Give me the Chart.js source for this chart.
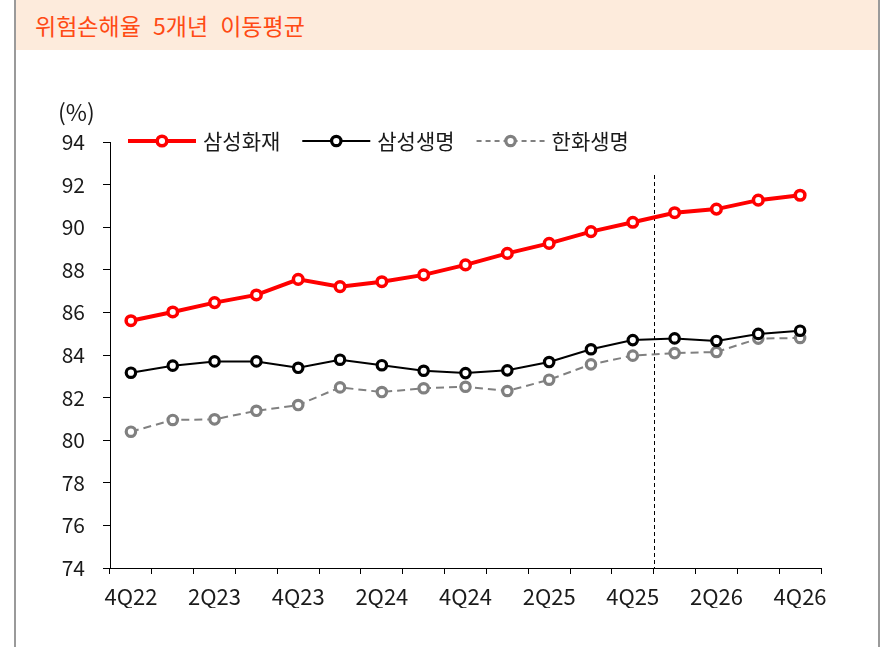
<!DOCTYPE html>
<html><head><meta charset="utf-8">
<script src="https://cdn.jsdelivr.net/npm/chart.js@4/dist/chart.umd.min.js"></script>
<style>
html,body{margin:0;padding:0;background:#fff;}
#wrap{position:relative;width:880px;height:647px;overflow:hidden;}
#frame{position:absolute;left:14px;top:0;width:866px;height:647px;border-left:2px solid #9a9a9a;border-right:2px solid #9a9a9a;box-sizing:border-box;}
#title{position:absolute;left:16px;top:0;width:862px;height:50px;background:#fdebdc;}
#title span{position:absolute;left:19px;top:13px;font-size:23px;line-height:24px;font-family:"Noto Sans CJK KR";color:#ff4a14;white-space:nowrap;word-spacing:7px;}
canvas{position:absolute;left:0;top:0;}
</style></head>
<body>
<div id="wrap">
  <div id="frame"></div>
  <div id="title"><span>위험손해율 5개년 이동평균</span></div>
  <canvas id="c" width="880" height="647"></canvas>
</div>
<script>
const categories = ['4Q22','1Q23','2Q23','3Q23','4Q23','1Q24','2Q24','3Q24','4Q24','1Q25','2Q25','3Q25','4Q25','1Q26','2Q26','3Q26','4Q26'];
const samsungFire = [85.61,86.02,86.46,86.82,87.55,87.21,87.44,87.76,88.23,88.77,89.24,89.79,90.23,90.68,90.85,91.27,91.50];
const samsungLife = [83.17,83.50,83.70,83.70,83.40,83.78,83.52,83.26,83.15,83.28,83.67,84.27,84.70,84.78,84.66,84.99,85.14];
const hanwhaLife  = [80.40,80.95,80.98,81.38,81.65,82.48,82.26,82.44,82.51,82.31,82.84,83.56,83.97,84.09,84.14,84.77,84.80];
const seriesNames = ['삼성화재','삼성생명','한화생명'];
const yMin = 74, yMax = 94, yStep = 2;
const yUnit = '(%)';
const forecastStart = '1Q26';
const dividerTop = 92.45;

const FONT = '"Noto Sans CJK KR", "Noto Sans", sans-serif';
const TXT = '#1a1a1a';

const decor = {
  id: 'decor',
  beforeDatasetsDraw(chart) {
    const ctx = chart.ctx, xs = chart.scales.x, ys = chart.scales.y;
    const i = categories.indexOf(forecastStart);
    const px = Math.round((xs.getPixelForValue(i - 1) + xs.getPixelForValue(i)) / 2) + 0.5;
    ctx.save();
    ctx.beginPath();
    ctx.setLineDash([4, 3]);
    ctx.lineWidth = 1;
    ctx.strokeStyle = '#000';
    ctx.moveTo(px, ys.getPixelForValue(dividerTop));
    ctx.lineTo(px, ys.bottom);
    ctx.stroke();
    ctx.restore();
  },
  afterDraw(chart) {
    const ctx = chart.ctx, ys = chart.scales.y;
    ctx.save();
    ctx.font = '23px ' + FONT;
    ctx.fillStyle = TXT;
    ctx.textAlign = 'left';
    ctx.textBaseline = 'middle';
    ctx.fillText(yUnit, 58, 112);
    let lx = 128;
    const ly = ys.getPixelForValue(yMax) - 1;
    ctx.font = '21px ' + FONT;
    chart.data.datasets.forEach(ds => {
      ctx.save();
      ctx.strokeStyle = ds.borderColor;
      ctx.lineWidth = ds.borderWidth;
      ctx.setLineDash(ds.legendDash || []);
      ctx.beginPath();
      ctx.moveTo(lx, ly); ctx.lineTo(lx + 68, ly);
      ctx.stroke();
      ctx.setLineDash([]);
      ctx.beginPath();
      ctx.arc(lx + 34, ly, ds.pointRadius, 0, Math.PI * 2);
      ctx.fillStyle = '#fff';
      ctx.fill();
      ctx.lineWidth = ds.pointBorderWidth;
      ctx.strokeStyle = ds.pointBorderColor;
      ctx.stroke();
      ctx.restore();
      ctx.fillStyle = TXT;
      ctx.fillText(ds.label, lx + 75, ly);
      lx += 75 + ctx.measureText(ds.label).width + 22;
    });
    ctx.restore();
  }
};

new Chart(document.getElementById('c'), {
  type: 'line',
  data: {
    labels: categories,
    datasets: [
      { label: seriesNames[0], data: samsungFire, borderColor: '#ff0000', borderWidth: 4,
        pointRadius: 4.8, pointBorderWidth: 3.5, pointBorderColor: '#ff0000', pointBackgroundColor: '#fff', order: 1 },
      { label: seriesNames[1], data: samsungLife, borderColor: '#000000', borderWidth: 2,
        pointRadius: 4.7, pointBorderWidth: 3.2, pointBorderColor: '#000000', pointBackgroundColor: '#fff', order: 2 },
      { label: seriesNames[2], data: hanwhaLife, borderColor: '#808080', borderWidth: 2, borderDash: [8, 5], legendDash: [5, 4],
        pointRadius: 4.7, pointBorderWidth: 3.2, pointBorderColor: '#808080', pointBackgroundColor: '#fff', order: 3 }
    ]
  },
  options: {
    responsive: false,
    animation: false,
    devicePixelRatio: 1,
    layout: { padding: { left: 0, right: 59, top: 142, bottom: 39 } },
    plugins: { legend: { display: false }, tooltip: { enabled: false }, title: { display: false } },
    elements: { line: { tension: 0 } },
    scales: {
      x: {
        offset: true,
        grid: { offset: true, drawOnChartArea: false, drawTicks: true, tickLength: 6, tickColor: '#000' },
        border: { display: true, color: '#000', width: 1 },
        ticks: {
          autoSkip: false, maxRotation: 0, padding: 9, color: TXT,
          font: { family: FONT, size: 22 },
          callback: (v, i) => (i % 2 === 0 ? categories[i] : '')
        },
        afterFit: s => { s.height = 40; }
      },
      y: {
        min: yMin, max: yMax,
        grid: { drawOnChartArea: false, drawTicks: true, tickLength: 7, tickColor: '#000' },
        border: { display: true, color: '#000', width: 1 },
        ticks: { stepSize: yStep, padding: 18, color: TXT, font: { family: FONT, size: 21 } },
        afterFit: s => { s.width = 110; }
      }
    }
  },
  plugins: [decor]
});
</script>
</body></html>
